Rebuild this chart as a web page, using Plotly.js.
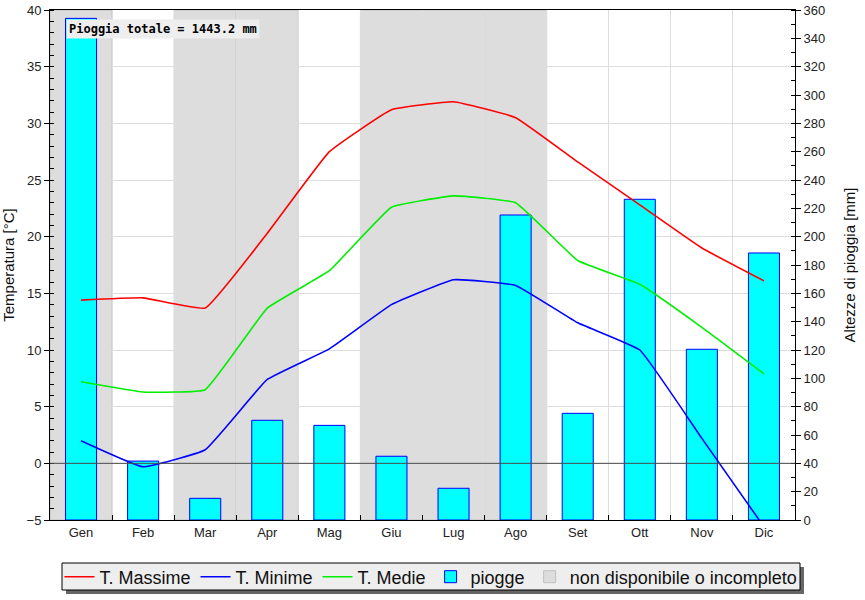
<!DOCTYPE html>
<html>
<head>
<meta charset="utf-8">
<script src="https://cdn.plot.ly/plotly-3.0.1.min.js"></script>
<style>html,body{margin:0;padding:0;background:#fff;} #chart{width:865px;height:600px;}</style>
</head>
<body>
<div id="chart"></div>
<script>
const months = ['Gen','Feb','Mar','Apr','Mag','Giu','Lug','Ago','Set','Ott','Nov','Dic'];
const tMax = [14.4,14.6,13.7,20.3,27.5,31.2,31.9,30.5,26.6,22.8,19.0,16.1];
const tMin = [2.0,-0.3,1.2,7.4,10.1,14.0,16.2,15.7,12.4,10.0,2.2,-5.6];
const tMed = [7.2,6.3,6.5,13.7,17.0,22.6,23.6,23.0,17.9,15.8,12.0,7.9];
const rain = [354.1,41.6,15.3,70.4,66.8,45.0,22.4,215.3,75.3,226.4,120.5,188.5];
const incomplete = ['Gen','Mar','Apr','Giu','Lug','Ago'];
const totalLabel = 'Pioggia totale = 1443.2 mm';
const seriesNames = ['T. Massime','T. Minime','T. Medie','piogge','non disponibile o incompleto'];

const lineStyle = (c) => ({color: c, width: 1.6, shape: 'spline', smoothing: 0.3});
const traces = [
  {type:'scatter', mode:'lines', x: months, y: tMax, name: seriesNames[0], yaxis:'y2', line: lineStyle('#ff0000')},
  {type:'scatter', mode:'lines', x: months, y: tMin, name: seriesNames[1], yaxis:'y2', line: lineStyle('#0000ff')},
  {type:'scatter', mode:'lines', x: months, y: tMed, name: seriesNames[2], yaxis:'y2', line: lineStyle('#00ee00')},
  {type:'bar', x: months, y: rain, name: seriesNames[3], yaxis:'y', width: 0.5,
   marker: {color:'#00ffff', line:{color:'#0000ff', width:1}}}
];

const shapes = [];
incomplete.forEach((m, i) => {
  const idx = months.indexOf(m);
  shapes.push({type:'rect', xref:'x', yref:'paper', x0: idx-0.5, x1: idx+0.5, y0:0, y1:1,
    fillcolor:'#dddddd', line:{color:'#c0c0c0', width:1}, layer:'between',
    showlegend: i === 0, name: seriesNames[4], legendrank: 2000});
});
shapes.push({type:'line', xref:'paper', x0:0, x1:1, yref:'y2', y0:0, y1:0,
  line:{color:'#4a4a4a', width:1}, layer:'above'});
// legend frame + shadow (paper coords: x 50..795 px, y 10..520 px)
const px = (v) => (v-50)/745, py = (v) => (520-v)/510;
shapes.push({type:'rect', xref:'paper', yref:'paper', x0:px(66), x1:px(804),
  y0:py(594), y1:py(567), fillcolor:'#666666', line:{width:0}, layer:'above'});
shapes.push({type:'rect', xref:'paper', yref:'paper', x0:px(62), x1:px(800),
  y0:py(590), y1:py(563), fillcolor:'#eeeeee', line:{color:'#000', width:1}, layer:'above'});

const tickFont = {family:'Liberation Sans, Arial, sans-serif', size:13, color:'#222'};
const layout = {
  width: 865, height: 600,
  margin: {l:50, r:70, t:10, b:80},
  paper_bgcolor:'#ffffff', plot_bgcolor:'#ffffff',
  font: {family:'Liberation Sans, Arial, sans-serif', color:'#222'},
  bargap: 0,
  xaxis: {type:'category', range:[-0.5, 11.5], showline:true, linecolor:'#000', linewidth:1, mirror:true,
    ticks:'inside', ticklen:5, tickcolor:'#000', tickson:'boundaries', showgrid:true, gridcolor:'#dddddd',
    tickfont: tickFont, zeroline:false, fixedrange:true},
  yaxis: {side:'right', range:[0,360], dtick:20, ticks:'outside', ticklen:5, tickcolor:'#000',
    minor:{dtick:10, ticks:'inside', ticklen:4, tickcolor:'#000', showgrid:false},
    showgrid:false, zeroline:false, showline:true, linecolor:'#000', tickfont: tickFont,
    title:{text:'Altezze di pioggia [mm]', font:{size:15, color:'#111'}, standoff: 20}},
  yaxis2: {overlaying:'y', anchor:'x', side:'left', range:[-5,40], dtick:5, ticks:'outside', ticklen:5, tickcolor:'#000',
    minor:{dtick:1, ticks:'inside', ticklen:4, tickcolor:'#000', showgrid:false},
    showgrid:true, gridcolor:'#dddddd', zeroline:false, showline:true, linecolor:'#000', tickfont: tickFont,
    title:{text:'Temperatura [°C]', font:{size:15, color:'#111'}, standoff: 8}},
  showlegend: true,
  legend: {orientation:'h', xref:'container', yref:'container', x:431/865, xanchor:'center', y:1-577/600, yanchor:'middle',
    bgcolor:'rgba(0,0,0,0)', borderwidth:0,
    font:{family:'Liberation Sans, Arial, sans-serif', size:18, color:'#111'}, traceorder:'normal'},
  shapes: shapes,
  annotations: [{xref:'paper', yref:'paper', x:px(66), y:py(19), xanchor:'left', yanchor:'top',
    text:'<b>' + totalLabel + '</b>', showarrow:false, bgcolor:'#eeeeee', borderpad:2,
    font:{family:'DejaVu Sans Mono, monospace', size:12, color:'#000'}}]
};

Plotly.newPlot('chart', traces, layout, {displayModeBar:false, staticPlot:true});
</script>
</body>
</html>
